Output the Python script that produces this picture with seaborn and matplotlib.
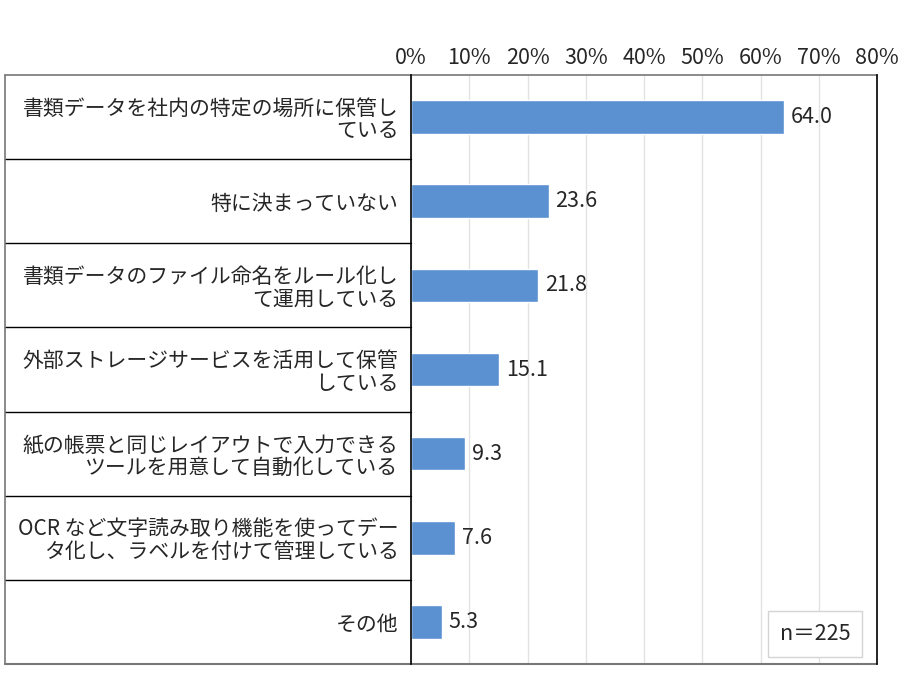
import numpy as np
import matplotlib
matplotlib.use("Agg")
import matplotlib.pyplot as plt
import matplotlib.transforms as mtransforms
import pandas as pd
import seaborn as sns

# data
labels = [
    "書類データを社内の特定の場所に保管し\nている",
    "特に決まっていない",
    "書類データのファイル命名をルール化し\nて運用している",
    "外部ストレージサービスを活用して保管\nしている",
    "紙の帳票と同じレイアウトで入力できる\nツールを用意して自動化している",
    "OCR など文字読み取り機能を使ってデー\nタ化し、ラベルを付けて管理している",
    "その他",
]
values = [64.0, 23.6, 21.8, 15.1, 9.3, 7.6, 5.3]
xticks = [0, 10, 20, 30, 40, 50, 60, 70, 80]
n_text = "n＝225"

sns.set_style("white")
plt.rcParams['font.family'] = ['Noto Sans CJK JP', 'DejaVu Sans']

df = pd.DataFrame({"item": labels, "pct": values})

fig = plt.figure(figsize=(9, 6.8), dpi=100)
ax = fig.add_axes([0.4567, 0.0235, 0.5178, 0.8662])

sns.barplot(data=df, x="pct", y="item", orient="h", color="#5B91D1",
            width=0.4, saturation=1, ax=ax)

ax.set_xlim(0, 80)
ax.set_ylim(6.5, -0.5)
ax.set_xticks(xticks)
ax.set_xticklabels([f"{t}%" for t in xticks], fontsize=15.5)
ax.xaxis.tick_top()
ax.tick_params(axis="x", length=0, pad=4)
ax.tick_params(axis="y", length=0, pad=9, labelsize=15)
for t in ax.get_yticklabels():
    t.set_linespacing(1.05)
ax.set_xlabel("")
ax.set_ylabel("")

ax.grid(axis="x", color="#e2e2e2", lw=1)
ax.set_axisbelow(True)

for s in ["top", "bottom"]:
    ax.spines[s].set_visible(False)
ax.spines["left"].set_color("black")
ax.spines["right"].set_color("black")
ax.spines["left"].set_linewidth(1.2)
ax.spines["right"].set_linewidth(1.2)

ax.bar_label(ax.containers[0], fmt="%.1f", padding=5, fontsize=15.5)

# table frame on the left
left = -0.871
trans = mtransforms.blended_transform_factory(ax.transAxes, ax.transData)
for y in np.arange(0.5, 6.5, 1):
    ax.plot([left, 0], [y, y], transform=trans, color="black", lw=1, clip_on=False)
ax.plot([left, left], [-0.5, 6.5], transform=trans, color="#777777", lw=1.2, clip_on=False)
ax.plot([left, 1], [-0.5, -0.5], transform=trans, color="#777777", lw=1.2, clip_on=False)
ax.plot([left, 1], [6.5, 6.5], transform=trans, color="#777777", lw=1.5, clip_on=False)

ax.text(0.867, 0.051, n_text, transform=ax.transAxes, ha="center", va="center",
        fontsize=15.5, bbox=dict(boxstyle="square,pad=0.55", fc="white", ec="#d4d4d4"))

fig.savefig("out.png", dpi=100)
